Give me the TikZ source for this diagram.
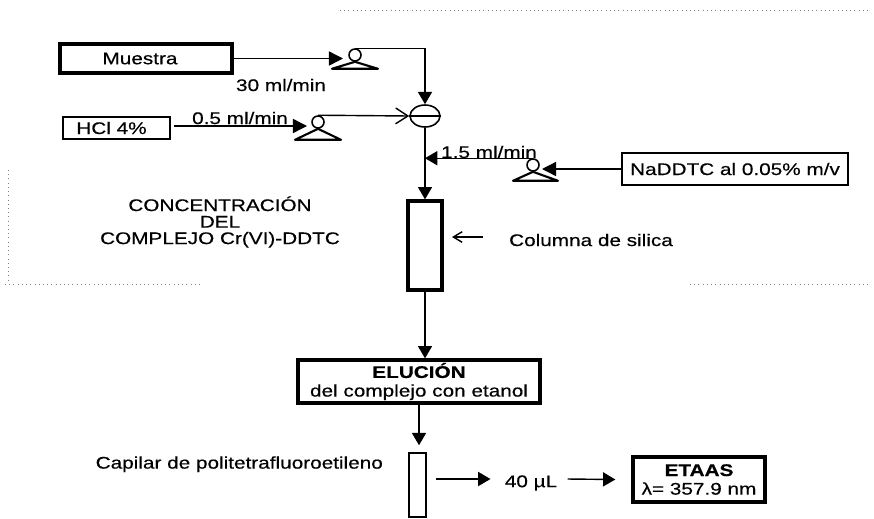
\documentclass[tikz,border=0pt]{standalone}
\usepackage{fontspec}
\setmainfont[FakeBold=0.4,FakeStretch=1.23]{Liberation Sans}
\usepackage{tikz}
\usetikzlibrary{calc,positioning,shapes.geometric,arrows.meta}

\begin{document}
\begin{tikzpicture}[x=0.02cm,y=-0.02cm,
  txt/.style={font=\fontsize{9.6}{10.6}\selectfont,inner sep=0pt,align=center},
  thin box/.style={draw,line width=0.9pt,inner sep=0pt,txt},
  thick box/.style={draw,line width=1.9pt,inner sep=0pt,txt},
  pump/.style={draw,circle,line width=0.9pt,minimum size=0.24cm,inner sep=0pt},
  base/.style={line width=1.2pt,line join=round},
  a/.style={-{Triangle[length=7pt,width=8pt]},line width=0.8pt},
  b/.style={-{Triangle[length=8pt,width=8pt]},line width=0.8pt},
  l/.style={line width=0.8pt},
  ruido/.style={dotted,gray,line width=0.4pt}]
  \useasboundingbox (0,0) rectangle (874,518);
  % first line: sample
  \node[thick box,minimum width=3.44cm,minimum height=0.58cm] (muestra) at (146,58.5) {Muestra\hspace*{0.24cm}};
  \node[pump] (p1) at (355,55) {};
  \draw[base] (p1.south) -- ++(-23,7) -- ++(46,0) -- cycle;
  \coordinate (t1) at (343,58.5);
  \node[txt] (q1) at (281,85) {30 ml/min};
  % second line: acid
  \node[thin box,minimum width=2.14cm,minimum height=0.44cm] (hcl) at (116.5,128) {HCl 4\%\hspace*{0.2cm}};
  \node[pump] (p2) at (318,122) {};
  \draw[base] (p2.south) -- ++(-23,11) -- ++(46,0) -- cycle;
  \coordinate (f2) at (174,126);
  \coordinate (t2) at (307,126);
  \node[txt] (q2) at (240,118) {0.5 ml/min};
  \node[draw,ellipse,line width=0.9pt,minimum width=0.6cm,minimum height=0.44cm,inner sep=0pt] (sep) at (425,116) {};
  % third line: reagent
  \node[thin box,minimum width=4.52cm,minimum height=0.64cm] (nad) at (735,169) {NaDDTC al 0.05\% m/v};
  \node[pump] (p3) at (533,165) {};
  \draw[base] (p3.south) -- ++(-20,9) -- ++(45,0) -- cycle;
  \coordinate (t3) at (542,169);
  \node[txt] (q3) at (489,152) {1.5 ml/min};
  % column
  \node[thick box,minimum width=0.68cm,minimum height=1.78cm] (col) at (425,245.5) {};
  \node[txt] (sil) at (591,240) {Columna de silica};
  \coordinate (s1) at (483,237);
  \coordinate (s2) at (452,237);
  \node[txt,font=\fontsize{9.6}{9.4}\selectfont] (conc) at (220,222) {CONCENTRACIÓN\\DEL\hspace*{0.56cm}\\COMPLEJO Cr(VI)-DDTC};
  % elution and detection
  \node[thick box,minimum width=4.84cm,minimum height=0.86cm] (elu) at (419,381.5) {\textbf{ELUCIÓN}\\del complejo con etanol};
  \node[thin box,minimum width=0.34cm,minimum height=1.28cm] (cap) at (417.5,485) {};
  \node[txt,left=0.5cm of cap.north west,yshift=-0.24cm] (caplab) {Capilar de politetrafluoroetileno};
  \node[txt] (vol) at (531,483) {40 µL};
  \node[thick box,minimum width=2.64cm,minimum height=0.9cm] (etaas) at (699,479.5) {\textbf{ETAAS}\\λ= 357.9 nm};
  \coordinate (j) at (col.north |- p3.north);
  % connectors
  \draw[b] (muestra.east) -- (t1);
  \draw[a] (p1.north) -| (sep.north);
  \draw[b] (f2) -- (t2);
  \draw[l,-{Straight Barb[length=7pt,width=9pt]}] (p2.north) -- (sep.west);
  \draw[l] (sep.west) -- (sep.east);
  \draw[b] (nad.west) -- (t3);
  \draw[a] (p3.north) -- (j);
  \draw[a] (sep.south) -- (col.north);
  \draw[l,-{Straight Barb[length=5pt,width=6pt]}] (s1) -- (s2);
  \draw[a] (col.south) -- (col.south |- elu.north);
  \draw[a,shorten >=0.14cm] (elu.south) -- (elu.south |- cap.north);
  \draw[a] ($(cap.east)+(9,-6)$) -- ($(vol.west)+(-14,-4)$);
  \draw[a] ($(vol.east)+(10,-4)$) -- ($(etaas.west)+(-16,0)$);
  % marks of the scan
  \draw[ruido] (340,10) -- (870,10);
  \draw[ruido] (5,284) -- (200,284);
  \draw[ruido] (690,284) -- (870,284);
  \draw[ruido] (8,170) -- (8,280);
\end{tikzpicture}
\end{document}
